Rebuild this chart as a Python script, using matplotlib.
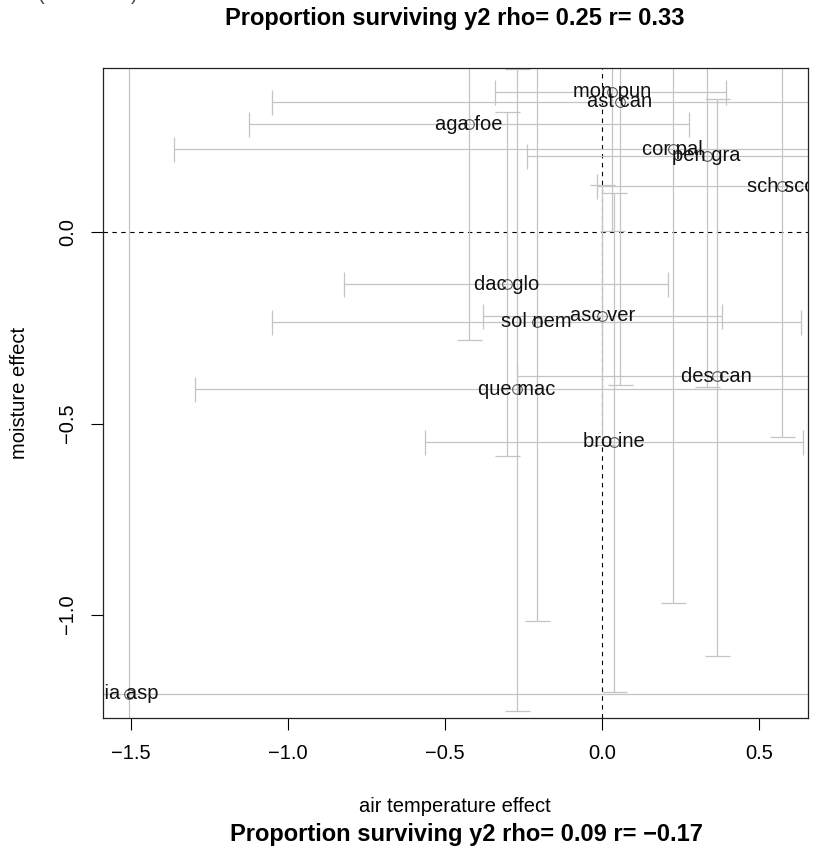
import matplotlib
matplotlib.use("Agg")
import matplotlib.pyplot as plt
import numpy as np

plt.rcParams['font.family'] = ['Liberation Sans', 'DejaVu Sans']

# ---- data ----
species = ["mon pun", "ast can", "aga foe", "cor pal", "pen gra", "sch sco",
           "dac glo", "sol nem", "asc ver", "que mac", "des can", "bro ine",
           "lia asp"]
air_temp = [0.031, 0.057, -0.423, 0.225, 0.333, 0.572,
            -0.303, -0.208, 0.001, -0.271, 0.365, 0.039, -1.504]
moisture = [0.368, 0.342, 0.283, 0.217, 0.200, 0.121,
            -0.136, -0.234, -0.218, -0.411, -0.376, -0.548, -1.207]
air_lo = [-0.341, -1.049, -1.124, -1.363, -0.240, -0.016,
          -0.820, -1.049, -0.380, -1.295, -0.271, -0.563, -3.80]
air_hi = [0.395, 1.163, 0.278, 1.813, 0.906, 1.160,
          0.211, 0.633, 0.381, 0.753, 1.001, 0.641, 0.80]
moist_lo = [0.004, -0.399, -0.282, -0.969, -0.405, -0.535,
            -0.585, -1.016, -0.555, -1.251, -1.108, -1.201, -3.00]
moist_hi = [0.732, 1.083, 0.848, 1.403, 0.805, 0.777,
            0.314, 0.548, 0.124, 0.427, 0.348, 0.102, 0.60]

title_top = "Proportion surviving y2 rho= 0.25 r= 0.33"
title_next = "Proportion surviving y2 rho= 0.09 r= \u22120.17"
x_label = "air temperature effect"
y_label = "moisture effect"
x_ticks = [-1.5, -1.0, -0.5, 0.0, 0.5]
y_ticks = [-1.0, -0.5, 0.0]

W, H = 817, 856
fig = plt.figure(figsize=(W / 100, H / 100), dpi=100)
L, R, B, T = 102.7, 807.7, 718.3, 68.3
ax = fig.add_axes([L / W, 1 - B / H, (R - L) / W, (B - T) / H])

x = np.array(air_temp)
y = np.array(moisture)
xerr = np.vstack([x - np.array(air_lo), np.array(air_hi) - x])
yerr = np.vstack([y - np.array(moist_lo), np.array(moist_hi) - y])

ax.axhline(0, color='black', lw=0.8, ls=(0, (4, 4)), zorder=1)
ax.axvline(0, color='black', lw=0.8, ls=(0, (4, 4)), zorder=1)

ax.errorbar(x, y, xerr=xerr, yerr=yerr, fmt='none', ecolor='#C4C4C4',
            elinewidth=0.9, capsize=9, capthick=0.9, zorder=2)
ax.plot(x, y, 'o', mfc='none', mec='#555555', mew=0.8, ms=7, zorder=3)

for s, xi, yi in zip(species, x, y):
    ax.text(xi, yi, s, ha='center', va='center', fontsize=14.5,
            color='#111111', clip_on=True, zorder=4)

ax.set_xlim(-1.589, 0.655)
ax.set_ylim(-1.271, 0.429)
ax.set_xticks(x_ticks)
ax.set_yticks(y_ticks)
ax.set_xticklabels([f"{v:.1f}".replace('-', '\u2212') for v in x_ticks])
ax.set_yticklabels([f"{v:.1f}".replace('-', '\u2212') for v in y_ticks],
                   rotation=90, va='center')
ax.tick_params(axis='both', length=8.6, width=0.8, labelsize=14.5,
               color='black')
ax.tick_params(axis='x', pad=10)
ax.tick_params(axis='y', pad=10)
for sp in ax.spines.values():
    sp.set_linewidth(0.9)
    sp.set_color('#222222')

fig.text(455 / W, 1 - 18 / H, title_top, ha='center', va='center',
         fontsize=17, fontweight='bold')
fig.text(466 / W, 1 - 835 / H, title_next, ha='center', va='center',
         fontsize=17, fontweight='bold')
fig.text(455 / W, 1 - 806 / H, x_label, ha='center', va='center',
         fontsize=14.5)
fig.text(20 / W, 1 - 393 / H, y_label, ha='center', va='center',
         fontsize=14.5, rotation=90)
# fragment of text from the page above, cut off at the top edge
fig.text(38 / W, 1 + 0.5 / H, "(continued).", ha='left', va='baseline',
         fontsize=14.5, color='#444444')

fig.savefig("out.png", dpi=100)
